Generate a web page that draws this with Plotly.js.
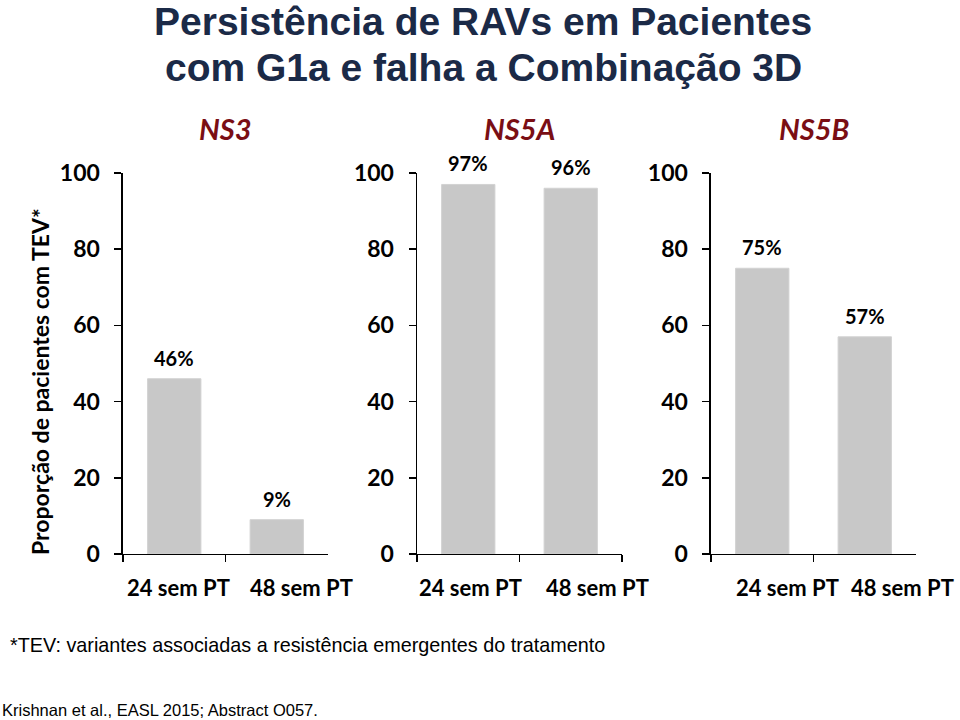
<!DOCTYPE html>
<html>
<head>
<meta charset="utf-8">
<script src="https://cdn.plot.ly/plotly-3.0.1.min.js"></script>
<style>html,body{margin:0;padding:0;background:#fff;}#chart{width:960px;height:720px;}</style>
</head>
<body>
<div id="chart"></div>
<script>
// Data
const categories = ["24 sem PT", "48 sem PT"];
const panels = ["NS3", "NS5A", "NS5B"];
const ns3Values = [46, 9];
const ns5aValues = [97, 96];
const ns5bValues = [75, 57];
const yTicks = [0, 20, 40, 60, 80, 100];
const titleLines = ["Persistência de RAVs em Pacientes", "com G1a e falha a Combinação 3D"];
const yTitle = "Proporção de pacientes com TEV*";
const footnote = "*TEV: variantes associadas a resistência emergentes do tratamento";
const source = "Krishnan et al., EASL 2015; Abstract O057.";

const seriesList = [ns3Values, ns5aValues, ns5bValues];
const boldFont = (size, color) => ({family: "Lato, 'Open Sans', sans-serif", size: size, color: color || "#000", weight: 700});
const domainsX = [[0.1281, 0.3417], [0.4344, 0.6479], [0.7406, 0.9542]];
const domainY = [0.2306, 0.7597];
const xLabelShift = [[4, 25], [2, 27], [25, 38]];

const traces = [];
const layout = {
  width: 960, height: 720,
  margin: {l: 0, r: 0, t: 0, b: 0},
  paper_bgcolor: "#fff", plot_bgcolor: "#fff",
  showlegend: false,
  annotations: [],
  font: {family: "Lato, sans-serif"}
};

seriesList.forEach((vals, i) => {
  const s = i === 0 ? "" : String(i + 1);
  traces.push({
    type: "bar",
    x: categories,
    y: vals,
    xaxis: "x" + s,
    yaxis: "y" + s,
    width: 0.52,
    marker: {color: "#C8C8C8", line: {color: "#D2D2D2", width: 1}},
    hoverinfo: "skip"
  });
  layout["xaxis" + s] = {
    domain: domainsX[i],
    anchor: "y" + s,
    type: "category",
    categoryarray: categories,
    range: [-0.5, categories.length - 0.5],
    showline: true, linecolor: "#000", linewidth: 1.5,
    ticks: "outside", tickson: "boundaries", ticklen: 7, tickcolor: "#000", tickwidth: 1.5,
    showticklabels: false,
    showgrid: false, zeroline: false,
    fixedrange: true
  };
  layout["yaxis" + s] = {
    domain: domainY,
    anchor: "x" + s,
    range: [0, 100],
    tickvals: yTicks,
    showline: true, linecolor: "#000", linewidth: 1.5,
    ticks: "outside", ticklen: 7, tickcolor: "#000", tickwidth: 1.5,
    tickfont: boldFont(23),
    ticklabelstandoff: 10,
    showgrid: false, zeroline: false,
    fixedrange: true
  };
  vals.forEach((v, j) => {
    layout.annotations.push({
      xref: "x" + s, yref: "y" + s,
      x: j, y: v,
      text: v + "%",
      showarrow: false,
      yanchor: "bottom", yshift: 7,
      font: boldFont(20)
    });
  });
  categories.forEach((c, j) => {
    layout.annotations.push({
      xref: "x" + s, yref: "paper",
      x: j, y: 1 - 587 / 720,
      text: c, showarrow: false,
      xanchor: "center", yanchor: "middle",
      xshift: xLabelShift[i][j],
      font: boldFont(22)
    });
  });
  layout.annotations.push({
    xref: "paper", yref: "paper",
    x: (domainsX[i][0] + domainsX[i][1]) / 2, y: 1 - 128 / 720,
    text: "<i>" + panels[i] + "</i>",
    showarrow: false, xanchor: "center", yanchor: "middle",
    font: boldFont(29, "#7A0E14")
  });
});

layout.annotations.push({
  xref: "paper", yref: "paper", x: 40 / 960, y: 1 - 382 / 720,
  text: yTitle, textangle: -90, showarrow: false,
  xanchor: "center", yanchor: "middle",
  font: boldFont(23)
});
titleLines.forEach((t, k) => {
  layout.annotations.push({
    xref: "paper", yref: "paper", x: 483 / 960, y: 1 - (21 + 46 * k) / 720,
    text: t, showarrow: false, xanchor: "center", yanchor: "middle",
    font: {family: "'Liberation Sans', Arial, sans-serif", size: 39, color: "#1B2A47", weight: 700}
  });
});
layout.annotations.push({
  xref: "paper", yref: "paper", x: 8 / 960, y: 1 - 645 / 720,
  text: footnote, showarrow: false, xanchor: "left", yanchor: "middle",
  font: {family: "'Liberation Sans', Arial, sans-serif", size: 19.8, color: "#000"}
});
layout.annotations.push({
  xref: "paper", yref: "paper", x: 0, y: 1 - 710 / 720,
  text: source, showarrow: false, xanchor: "left", yanchor: "middle",
  font: {family: "'Liberation Sans', Arial, sans-serif", size: 16.5, color: "#000"}
});

Plotly.newPlot("chart", traces, layout, {displayModeBar: false, staticPlot: true});
</script>
</body>
</html>
